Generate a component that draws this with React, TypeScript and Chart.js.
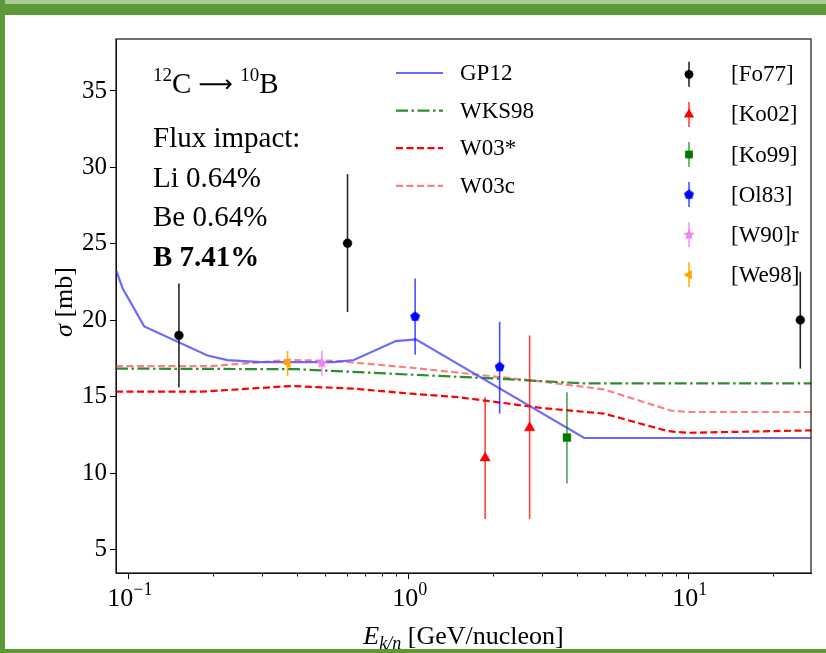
import React, { useEffect, useRef } from "react";
import { Chart, registerables } from "chart.js";

Chart.register(...registerables);

// ---------- data ----------
const X_MIN = 0.09;
const X_MAX = 27.3;
const Y_MIN = 3.47;
const Y_MAX = 38.4;
const X_MAJOR = [0.1, 1, 10];
const X_MINOR = [0.2, 0.3, 0.4, 0.5, 0.6, 0.7, 0.8, 0.9, 2, 3, 4, 5, 6, 7, 8, 9, 20];
const X_EXPONENTS = ["\u22121", "0", "1"];
const Y_TICKS = [5, 10, 15, 20, 25, 30, 35];

const GP12_X = [0.09, 0.095, 0.1135, 0.191, 0.225, 0.296, 0.54, 0.636, 0.899, 1.059, 4.23, 27.3];
const GP12_Y = [23.3, 22.1, 19.6, 17.7, 17.4, 17.27, 17.27, 17.4, 18.64, 18.75, 12.3, 12.3];

const WKS98_X = [0.09, 0.4, 1.0, 2.1, 4.2, 27.3];
const WKS98_Y = [16.84, 16.8, 16.45, 16.18, 15.87, 15.87];

const W03S_X = [0.09, 0.181, 0.379, 0.636, 1.017, 1.51, 2.96, 4.97, 8.41, 9.9, 27.3];
const W03S_Y = [15.33, 15.33, 15.7, 15.53, 15.2, 14.97, 14.27, 13.9, 12.75, 12.64, 12.8];

const W03C_X = [0.09, 0.196, 0.37, 0.54, 1.017, 1.51, 2.96, 4.97, 8.6, 9.9, 27.3];
const W03C_Y = [17.0, 17.0, 17.4, 17.35, 16.9, 16.57, 16.0, 15.48, 14.1, 14.0, 14.0];

const FO77_X = [0.151, 0.604, 25.0];
const FO77_Y = [19.01, 25.04, 20.02];
const FO77_LO = [15.6, 20.54, 16.84];
const FO77_HI = [22.4, 29.56, 23.18];

const KO02_X = [1.873, 2.7];
const KO02_Y = [11.0, 12.97];
const KO02_LO = [7.0, 7.0];
const KO02_HI = [14.97, 19.01];

const KO99_X = [3.67];
const KO99_Y = [12.33];
const KO99_LO = [9.32];
const KO99_HI = [15.3];

const OL83_X = [1.053, 2.11];
const OL83_Y = [20.24, 16.95];
const OL83_LO = [17.74, 13.9];
const OL83_HI = [22.73, 19.9];

const W90R_X = [0.489];
const W90R_Y = [17.2];
const W90R_LO = [16.34];
const W90R_HI = [18.0];

const WE98_X = [0.369];
const WE98_Y = [17.2];
const WE98_LO = [16.34];
const WE98_HI = [18.0];

const MODEL_LABELS = ["GP12", "WKS98", "W03*", "W03c"];
const DATA_LABELS = ["[Fo77]", "[Ko02]", "[Ko99]", "[Ol83]", "[W90]r", "[We98]"];
const FLUX_LINES = ["Flux impact:", "Li 0.64%", "Be 0.64%"];
const FLUX_BOLD = "B 7.41%";

// ---------- helpers ----------
const SERIF = "'Liberation Serif', 'DejaVu Serif', serif";

type Run = { t: string; size: number; dy?: number; bold?: boolean; italic?: boolean; family?: string };

function fontOf(r: Run) {
  return `${r.italic ? "italic " : ""}${r.bold ? "bold " : ""}${r.size}px ${r.family || SERIF}`;
}

function drawRuns(ctx: CanvasRenderingContext2D, runs: Run[], x: number, y: number, align: "left" | "center") {
  let w = 0;
  runs.forEach((r) => {
    ctx.font = fontOf(r);
    w += ctx.measureText(r.t).width;
  });
  let cx = align === "center" ? x - w / 2 : x;
  ctx.textAlign = "left";
  ctx.textBaseline = "alphabetic";
  runs.forEach((r) => {
    ctx.font = fontOf(r);
    ctx.fillText(r.t, cx, y + (r.dy || 0));
    cx += ctx.measureText(r.t).width;
  });
}

function makePentagon(color: string, r: number) {
  const c = document.createElement("canvas");
  const s = Math.ceil(r * 2 + 2);
  c.width = s;
  c.height = s;
  const g = c.getContext("2d")!;
  g.fillStyle = color;
  g.beginPath();
  for (let i = 0; i < 5; i++) {
    const a = -Math.PI / 2 + (i * 2 * Math.PI) / 5;
    const px = s / 2 + r * Math.cos(a);
    const py = s / 2 + r * Math.sin(a);
    if (i === 0) g.moveTo(px, py);
    else g.lineTo(px, py);
  }
  g.closePath();
  g.fill();
  return c;
}

function makeStar(color: string, r: number) {
  const c = document.createElement("canvas");
  const s = Math.ceil(r * 2 + 2);
  c.width = s;
  c.height = s;
  const g = c.getContext("2d")!;
  g.fillStyle = color;
  g.beginPath();
  for (let i = 0; i < 10; i++) {
    const a = -Math.PI / 2 + (i * Math.PI) / 5;
    const rr = i % 2 === 0 ? r : r * 0.45;
    const px = s / 2 + rr * Math.cos(a);
    const py = s / 2 + rr * Math.sin(a);
    if (i === 0) g.moveTo(px, py);
    else g.lineTo(px, py);
  }
  g.closePath();
  g.fill();
  return c;
}

function drawMarker(ctx: CanvasRenderingContext2D, style: any, x: number, y: number, r: number, rotDeg: number, color: string) {
  ctx.save();
  ctx.fillStyle = color;
  if (typeof style === "object") {
    ctx.drawImage(style, x - style.width / 2, y - style.height / 2);
    ctx.restore();
    return;
  }
  let rad = (rotDeg * Math.PI) / 180;
  ctx.beginPath();
  if (style === "circle") {
    ctx.arc(x, y, r, 0, Math.PI * 2);
  } else if (style === "triangle") {
    for (let i = 0; i < 3; i++) {
      const px = x + Math.sin(rad) * r;
      const py = y - Math.cos(rad) * r;
      if (i === 0) ctx.moveTo(px, py);
      else ctx.lineTo(px, py);
      rad += (2 * Math.PI) / 3;
    }
    ctx.closePath();
  } else if (style === "rect") {
    const s = Math.SQRT1_2 * r;
    ctx.rect(x - s, y - s, 2 * s, 2 * s);
  }
  ctx.fill();
  ctx.restore();
}

const toPts = (xs: number[], ys: number[]) => xs.map((x, i) => ({ x, y: ys[i] }));

export default function App() {
  const ref = useRef<HTMLCanvasElement>(null);

  useEffect(() => {
    if (!ref.current) return;
    const pent = makePentagon("#0000ff", 5.2);
    const star = makeStar("#ee82ee", 6);

    const lineDs = (label: string, xs: number[], ys: number[], color: string, dash: number[], width = 2.2) => ({
      label,
      data: toPts(xs, ys),
      showLine: true,
      borderColor: color,
      backgroundColor: color,
      borderWidth: width,
      borderDash: dash,
      pointRadius: 0,
      pointHoverRadius: 0,
      tension: 0,
      fill: false,
      order: 10,
    });

    const ptDs = (
      label: string,
      xs: number[],
      ys: number[],
      lo: number[],
      hi: number[],
      color: string,
      errColor: string,
      style: any,
      radius: number,
      rotation = 0
    ) => ({
      label,
      data: toPts(xs, ys),
      showLine: false,
      pointStyle: style,
      pointRadius: radius,
      pointHoverRadius: radius,
      pointRotation: rotation,
      backgroundColor: color,
      borderColor: color,
      borderWidth: 0.5,
      errLow: lo,
      errHigh: hi,
      errColor,
      order: 1,
    });

    const models = [
      lineDs(MODEL_LABELS[0], GP12_X, GP12_Y, "rgba(80,80,255,0.85)", []),
      lineDs(MODEL_LABELS[1], WKS98_X, WKS98_Y, "#2e8b2e", [12, 3.5, 2.5, 3.5]),
      lineDs(MODEL_LABELS[2], W03S_X, W03S_Y, "#ff0000", [7, 3.5]),
      lineDs(MODEL_LABELS[3], W03C_X, W03C_Y, "#ff8080", [7, 3.5]),
    ];

    const points = [
      ptDs(DATA_LABELS[0], FO77_X, FO77_Y, FO77_LO, FO77_HI, "#000000", "rgba(0,0,0,0.85)", "circle", 4.4),
      ptDs(DATA_LABELS[1], KO02_X, KO02_Y, KO02_LO, KO02_HI, "#ff0000", "rgba(255,0,0,0.75)", "triangle", 6),
      ptDs(DATA_LABELS[2], KO99_X, KO99_Y, KO99_LO, KO99_HI, "#007a00", "rgba(0,128,0,0.7)", "rect", 5.5),
      ptDs(DATA_LABELS[3], OL83_X, OL83_Y, OL83_LO, OL83_HI, "#0000ff", "rgba(0,0,255,0.7)", pent, 5),
      ptDs(DATA_LABELS[4], W90R_X, W90R_Y, W90R_LO, W90R_HI, "#ee82ee", "rgba(238,130,238,0.8)", star, 5),
      ptDs(DATA_LABELS[5], WE98_X, WE98_Y, WE98_LO, WE98_HI, "#ffa500", "rgba(255,165,0,0.9)", "triangle", 5.5, -90),
    ];

    const custom = {
      id: "custom",
      beforeDatasetDraw(chart: any, args: any) {
        const ds = chart.data.datasets[args.index];
        if (!ds.errLow) return;
        const ctx = chart.ctx as CanvasRenderingContext2D;
        const xs = chart.scales.x;
        const ys = chart.scales.y;
        const a = chart.chartArea;
        ctx.save();
        ctx.beginPath();
        ctx.rect(a.left, a.top, a.right - a.left, a.bottom - a.top);
        ctx.clip();
        ctx.strokeStyle = ds.errColor;
        ctx.lineWidth = 1.6;
        ds.data.forEach((p: any, i: number) => {
          const px = xs.getPixelForValue(p.x);
          ctx.beginPath();
          ctx.moveTo(px, ys.getPixelForValue(ds.errLow[i]));
          ctx.lineTo(px, ys.getPixelForValue(ds.errHigh[i]));
          ctx.stroke();
        });
        ctx.restore();
      },
      afterDraw(chart: any) {
        const ctx = chart.ctx as CanvasRenderingContext2D;
        const a = chart.chartArea;
        const xs = chart.scales.x;
        ctx.save();
        // box
        ctx.strokeStyle = "#111";
        ctx.lineWidth = 1.2;
        ctx.strokeRect(a.left, a.top, a.right - a.left, a.bottom - a.top);
        // minor ticks
        ctx.lineWidth = 1;
        ctx.strokeStyle = "#000";
        X_MINOR.forEach((v) => {
          const px = Math.round(xs.getPixelForValue(v)) + 0.5;
          ctx.beginPath();
          ctx.moveTo(px, a.bottom);
          ctx.lineTo(px, a.bottom + 3.5);
          ctx.stroke();
        });
        ctx.fillStyle = "#000";

        // x tick labels 10^n
        X_MAJOR.forEach((v, i) => {
          const px = xs.getPixelForValue(v);
          drawRuns(
            ctx,
            [
              { t: "10", size: 26 },
              { t: X_EXPONENTS[i], size: 18, dy: -11 },
            ],
            px + 1,
            606,
            "center"
          );
        });

        // model legend
        const ds = chart.data.datasets;
        const legY0 = 73;
        const legStep = 37.6;
        for (let i = 0; i < 4; i++) {
          const d = ds[i];
          const y = legY0 + i * legStep;
          ctx.save();
          ctx.strokeStyle = d.borderColor;
          ctx.lineWidth = d.borderWidth;
          ctx.setLineDash(d.borderDash);
          ctx.beginPath();
          ctx.moveTo(396, y);
          ctx.lineTo(443, y);
          ctx.stroke();
          ctx.restore();
          ctx.fillStyle = "#000";
          ctx.font = `23px ${SERIF}`;
          ctx.textAlign = "left";
          ctx.textBaseline = "middle";
          ctx.fillText(d.label, 460, y + 1);
        }

        // data legend
        const dY0 = 74.3;
        const dStep = 40.1;
        for (let i = 0; i < 6; i++) {
          const d = ds[4 + i];
          const y = dY0 + i * dStep;
          ctx.save();
          ctx.strokeStyle = d.errColor;
          ctx.lineWidth = 1.6;
          ctx.beginPath();
          ctx.moveTo(689, y - 12.5);
          ctx.lineTo(689, y + 12.5);
          ctx.stroke();
          ctx.restore();
          drawMarker(ctx, d.pointStyle, 689, y, d.pointRadius, d.pointRotation, d.backgroundColor);
          ctx.fillStyle = "#000";
          ctx.font = `23px ${SERIF}`;
          ctx.textAlign = "left";
          ctx.textBaseline = "middle";
          ctx.fillText(d.label, 731, y + 1);
        }

        // annotation
        ctx.fillStyle = "#000";
        drawRuns(
          ctx,
          [
            { t: "12", size: 19, dy: -12 },
            { t: "C ", size: 29 },
            { t: "\u27F6", size: 24, family: "'DejaVu Sans', 'DejaVu Serif', serif", dy: -1 },
            { t: " ", size: 29 },
            { t: "10", size: 19, dy: -12 },
            { t: "B", size: 29 },
          ],
          153,
          93,
          "left"
        );
        const base = [146.7, 186.7, 226.3];
        FLUX_LINES.forEach((t, i) => drawRuns(ctx, [{ t, size: 29 }], 153, base[i], "left"));
        drawRuns(ctx, [{ t: FLUX_BOLD, size: 29, bold: true }], 153, 266, "left");

        // x title
        drawRuns(
          ctx,
          [
            { t: "E", size: 26, italic: true },
            { t: "k/n", size: 18, italic: true, dy: 5 },
            { t: " [GeV/nucleon]", size: 26 },
          ],
          (a.left + a.right) / 2,
          644,
          "center"
        );

        // y title
        ctx.save();
        ctx.translate(72, 302);
        ctx.rotate(-Math.PI / 2);
        drawRuns(
          ctx,
          [
            { t: "\u03C3", size: 26, italic: true },
            { t: " [mb]", size: 26 },
          ],
          0,
          0,
          "center"
        );
        ctx.restore();
        ctx.restore();
      },
    };

    const tickFont = { family: SERIF, size: 25 };

    const chart = new Chart(ref.current, {
      type: "scatter",
      data: { datasets: [...models, ...points] as any },
      options: {
        animation: false,
        responsive: false,
        maintainAspectRatio: false,
        events: [],
        layout: { padding: { top: 39, right: 15, left: 0, bottom: 0 } },
        plugins: { legend: { display: false }, tooltip: { enabled: false } },
        scales: {
          x: {
            type: "logarithmic",
            min: X_MIN,
            max: X_MAX,
            afterBuildTicks: (s: any) => {
              s.ticks = X_MAJOR.map((v) => ({ value: v, major: true }));
            },
            afterFit: (s: any) => {
              s.height = 80;
            },
            grid: { drawOnChartArea: false, drawTicks: true, tickLength: 6, tickColor: "#000", tickWidth: 1, color: "#000" },
            border: { display: true, color: "#111", width: 1 },
            ticks: {
              autoSkip: false,
              maxRotation: 0,
              minRotation: 0,
              color: "#000",
              padding: 1,
              font: tickFont,
              callback: () => "",
            },
          },
          y: {
            type: "linear",
            min: Y_MIN,
            max: Y_MAX,
            afterBuildTicks: (s: any) => {
              s.ticks = Y_TICKS.map((v) => ({ value: v }));
            },
            afterFit: (s: any) => {
              s.width = 116;
            },
            grid: { drawOnChartArea: false, drawTicks: true, tickLength: 6, tickColor: "#000", tickWidth: 1, color: "#000" },
            border: { display: true, color: "#111", width: 1 },
            ticks: {
              color: "#000",
              padding: 3,
              font: tickFont,
              callback: (v: any) => String(v),
            },
          },
        },
      } as any,
      plugins: [custom as any],
    });

    return () => chart.destroy();
  }, []);

  const green = "#5a9936";
  return (
    <div style={{ position: "absolute", left: 0, top: 0, width: 826, height: 653, background: "#fff", overflow: "hidden" }}>
      <canvas ref={ref} width={826} height={653} style={{ position: "absolute", left: 0, top: 0, width: 826, height: 653 }} />
      <div style={{ position: "absolute", left: 0, top: 0, width: 826, height: 4, background: "#aacb93" }} />
      <div style={{ position: "absolute", left: 0, top: 4, width: 826, height: 11, background: green }} />
      <div style={{ position: "absolute", left: 0, top: 0, width: 5, height: 653, background: green }} />
      <div style={{ position: "absolute", left: 0, top: 649, width: 826, height: 4, background: green }} />
    </div>
  );
}
